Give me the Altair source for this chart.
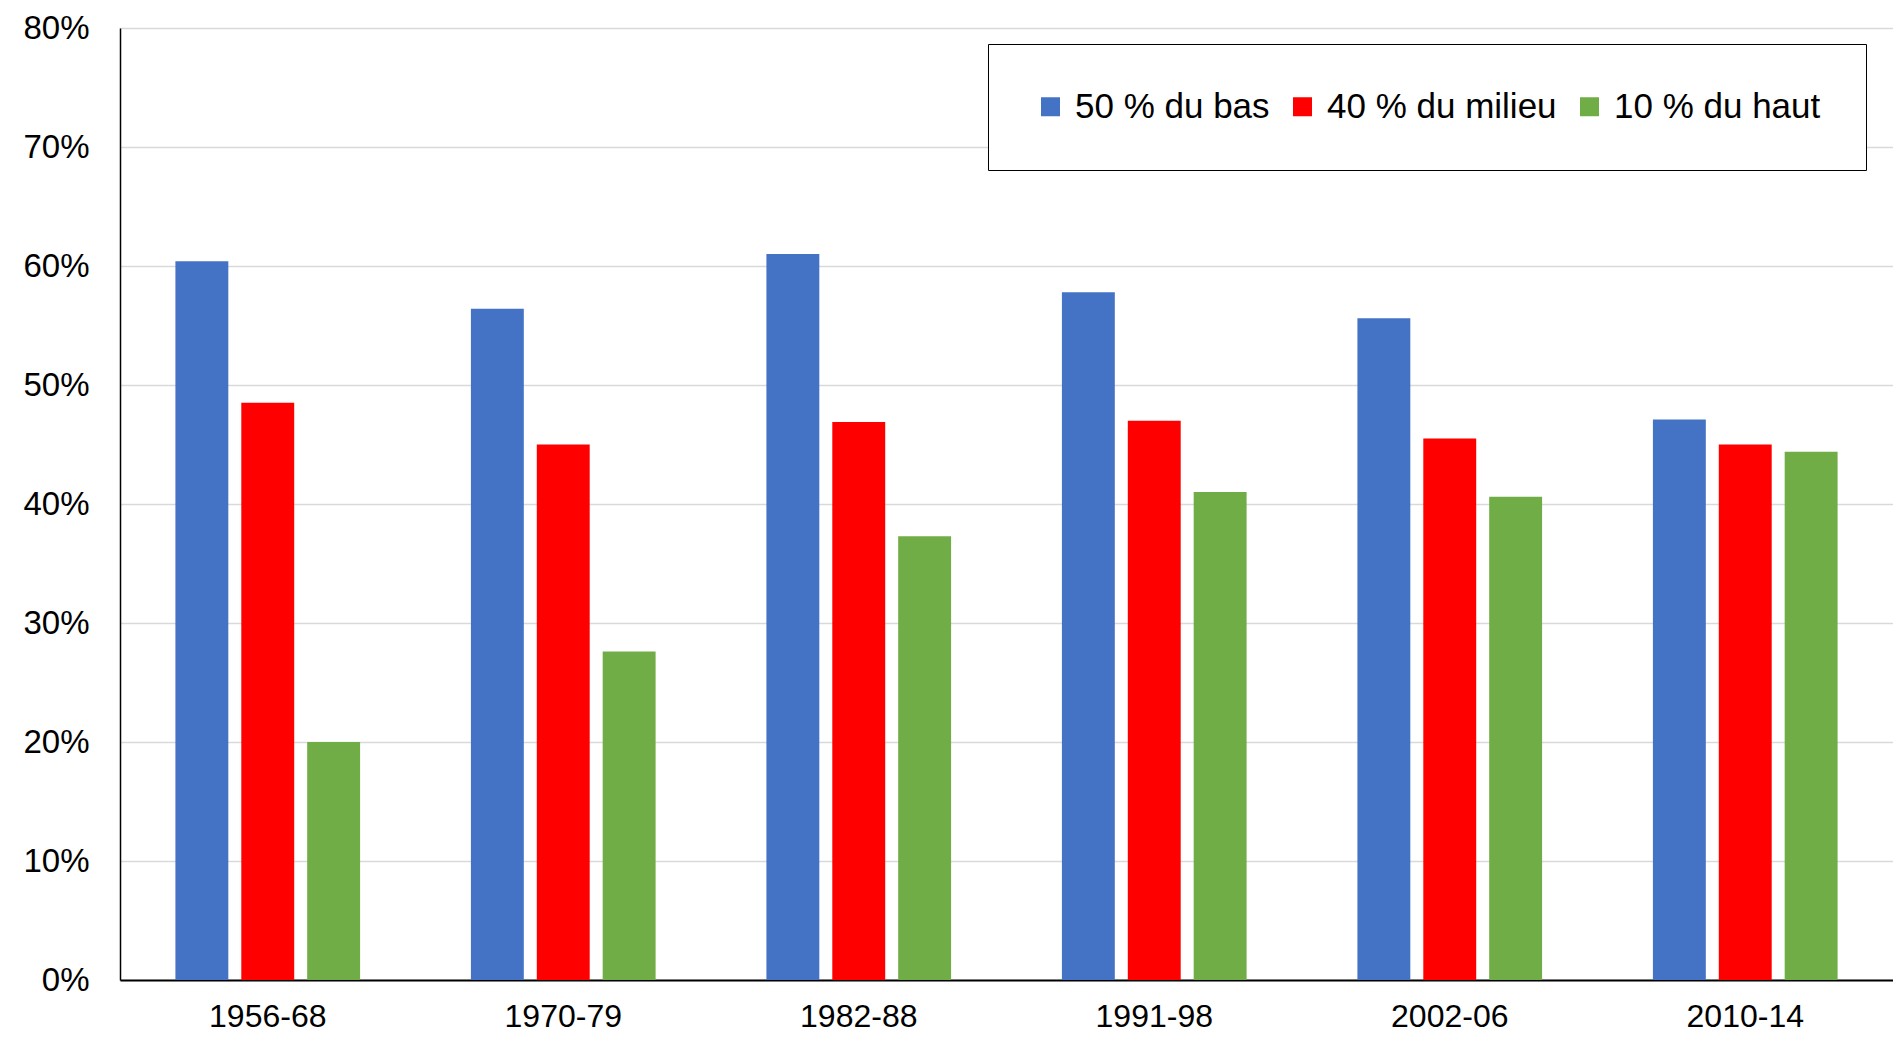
import altair as alt
import pandas as pd

periods = ["1956-68", "1970-79", "1982-88", "1991-98", "2002-06", "2010-14"]
series_names = ["50 % du bas", "40 % du milieu", "10 % du haut"]
bas = [60.4, 56.4, 61.0, 57.8, 55.6, 47.1]
milieu = [48.5, 45.0, 46.9, 47.0, 45.5, 45.0]
haut = [20.0, 27.6, 37.3, 41.0, 40.6, 44.4]
colors = ["#4472C4", "#FF0000", "#70AD47"]
y_ticks = [0, 10, 20, 30, 40, 50, 60, 70, 80]

rows = []
for name, vals in zip(series_names, [bas, milieu, haut]):
    for p, v in zip(periods, vals):
        rows.append({"periode": p, "groupe": name, "valeur": v})
df = pd.DataFrame(rows)

FONT = "Liberation Sans"

chart = alt.Chart(df).mark_bar().encode(
    x=alt.X("periode:N", sort=periods,
            scale=alt.Scale(paddingInner=0.375, paddingOuter=0.1875),
            axis=alt.Axis(title=None, labelAngle=0, labelFontSize=32, labelFont=FONT,
                          labelColor="black", labelPadding=21, ticks=False,
                          domainColor="black", domainWidth=2)),
    xOffset=alt.XOffset("groupe:N", sort=series_names,
                        scale=alt.Scale(paddingInner=0.197, paddingOuter=0)),
    y=alt.Y("valeur:Q", scale=alt.Scale(domain=[0, 80], nice=False),
            axis=alt.Axis(title=None, values=y_ticks, labelExpr="datum.value + '%'",
                          labelFontSize=33, labelFont=FONT, labelColor="black",
                          labelPadding=31, ticks=False, domainColor="black",
                          domainWidth=1.5, gridColor="#d9d9d9", gridWidth=1.5)),
    color=alt.Color("groupe:N", sort=series_names,
                    scale=alt.Scale(domain=series_names, range=colors),
                    legend=alt.Legend(title=None, orient="none", legendX=868, legendY=16,
                                      direction="horizontal", columns=3,
                                      symbolType="square", symbolSize=361,
                                      symbolStrokeWidth=0, labelFontSize=35,
                                      labelFont=FONT, labelColor="black",
                                      labelLimit=600,
                                      labelOffset=7, columnPadding=15,
                                      padding=45, strokeColor="black",
                                      fillColor="white")),
).properties(
    width=1773, height=952,
    padding={"left": 112, "top": 20, "right": 0, "bottom": 53},
    autosize="none",
).configure_view(
    stroke="black", strokeWidth=1.5
).configure(background="white")

chart.save("out.html", embed_options={"renderer": "svg", "actions": False})
